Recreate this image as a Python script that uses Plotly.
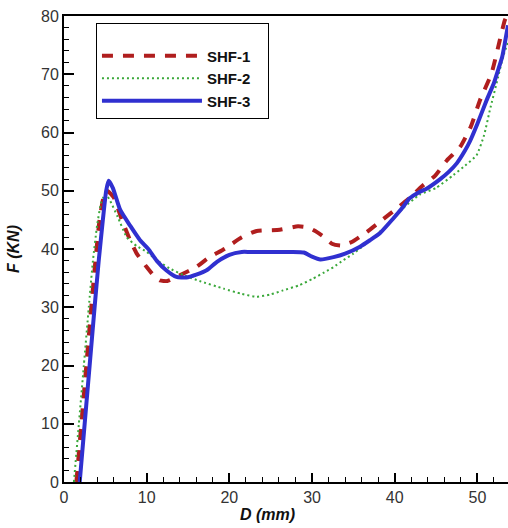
import plotly.graph_objects as go

# SHF-1 (red dashed)
shf1_x = [1.5, 2.1, 2.7, 3.3, 3.8, 4.3, 4.8, 5.2, 6.0, 7.0, 8.0, 8.8, 10.0, 11.0, 11.6, 12.5, 14, 16,
          17.4, 19.5, 21.5, 23.3, 26.1, 28.3, 29.5, 30.6, 31.5, 32.4, 33.5, 34.8, 36.6, 38.4, 40.2,
          41.8, 43.4, 44.9, 46.3, 47.9, 49.2, 50.3, 51.7, 52.7, 53.3, 53.7]
shf1_y = [0, 10, 20, 30, 38, 45, 49, 50, 48.9, 45, 41.5, 39.2, 36.9, 35.2, 34.6, 34.5, 35.5, 36.9,
          38.4, 40.1, 42, 43.1, 43.3, 43.9, 43.7, 42.9, 42, 40.9, 40.6, 41.2, 42.9, 44.9, 46.9,
          48.8, 50.9, 52.6, 55.2, 57.5, 61, 65.5, 70.1, 75.8, 79.2, 80.5]

# SHF-2 (green dotted)
shf2_x = [1.2, 1.8, 2.4, 3.0, 3.5, 4.0, 4.5, 5.0, 5.5, 6.5, 7.6, 8.8, 10, 11.5, 13, 14.5, 16.4,
          19.3, 21.5, 23.3, 25, 26.5, 28.5, 30.1, 31.5, 32.6, 33.8, 35, 37, 39, 41, 43, 45, 47.1,
          48.5, 49.9, 50.8, 51.5, 52.5, 53.1, 53.7]
shf2_y = [0, 10, 20, 30, 38, 44, 48, 49.5, 48.5, 45.5, 42, 40.5, 39.5, 37.8, 36.5, 35.5, 34.5,
          33.2, 32.3, 31.8, 32.2, 32.9, 33.8, 34.9, 36, 36.9, 38.1, 39.2, 41.5, 44, 47, 49.3, 50.5,
          52.7, 54.3, 56.1, 59.5, 63.8, 69.5, 73, 75.5]

# SHF-3 (blue solid)
shf3_x = [1.9, 2.5, 3.1, 3.7, 4.2, 4.7, 5.1, 5.4, 5.9, 6.8, 8.0, 9.2, 10.2, 11.2, 12.4, 13.6, 14.8,
          16.0, 17.3, 18.5, 20.0, 21.5, 22.5, 25, 27.5, 29, 30, 31, 32.6, 34, 35.8, 37, 38.2, 39.8,
          41, 41.8, 43, 43.9, 45.5, 46.5, 47.5, 48.5, 49.1, 50, 51.1, 52, 52.5, 53, 53.3, 53.7]
shf3_y = [0, 10, 20, 30, 38, 45, 50, 51.7, 50.5, 46.7, 44, 41.5, 40, 38, 36.3, 35.2, 35.1,
          35.6, 36.4, 37.8, 39, 39.5, 39.5, 39.5, 39.5, 39.4, 38.7, 38.2, 38.6, 39.2, 40.4, 41.5,
          42.7, 45.2, 47.2, 48.7, 49.8, 50.4, 52, 53.2, 54.7, 56.9, 58.5, 61.5, 65.5, 68.5, 70.7,
          73, 75.2, 78.4]

x_ticks = [0, 10, 20, 30, 40, 50]
y_ticks = [0, 10, 20, 30, 40, 50, 60, 70, 80]

fig = go.Figure()
fig.add_trace(go.Scatter(x=shf1_x, y=shf1_y, mode="lines", name="SHF-1",
                         line=dict(color="#b01e1e", width=4, dash="11px,10px",
                                   shape="spline", smoothing=0.5)))
fig.add_trace(go.Scatter(x=shf2_x, y=shf2_y, mode="lines", name="SHF-2",
                         line=dict(color="#3aa83a", width=2, dash="2px,3px",
                                   shape="spline", smoothing=0.5)))
fig.add_trace(go.Scatter(x=shf3_x, y=shf3_y, mode="lines", name="SHF-3",
                         line=dict(color="#3030d0", width=4, shape="spline", smoothing=0.5)))

font_family = "Liberation Sans, Arial, sans-serif"
axis_font = dict(family=font_family, size=16, color="#333333")
title_font = dict(family=font_family, size=16, color="#111111", weight="bold", style="italic")

fig.update_layout(
    width=508, height=528,
    margin=dict(l=64, r=0, t=16, b=46),
    paper_bgcolor="white", plot_bgcolor="white",
    showlegend=True,
    legend=dict(x=0.072, y=0.985, xanchor="left", yanchor="top",
                bordercolor="black", borderwidth=1, bgcolor="white",
                font=dict(family=font_family, size=15, color="#111111", weight="bold"),
                title=dict(text="\u00a0" * 50, font=dict(size=12)),
                tracegroupgap=0, itemwidth=100),
    xaxis=dict(range=[0, 53.7], tickvals=x_ticks, showgrid=False, zeroline=False,
               showline=True, linecolor="black", linewidth=2, mirror=True,
               ticks="inside", ticklen=9, tickwidth=2, tickcolor="black",
               tickfont=axis_font, automargin=False, ticklabeloverflow="allow",
               minor=dict(dtick=2, ticks="inside", ticklen=5, tickwidth=1, tickcolor="black")),
    yaxis=dict(range=[0, 80], tickvals=y_ticks, showgrid=False, zeroline=False,
               showline=True, linecolor="black", linewidth=2,
               ticks="inside", ticklen=10, tickwidth=2, tickcolor="black",
               tickfont=axis_font, automargin=False, ticklabeloverflow="allow",
               minor=dict(dtick=2, ticks="inside", ticklen=5, tickwidth=1, tickcolor="black"),
               title=dict(text="F (KN)", font=title_font, standoff=17)),
    annotations=[dict(text="D (mm)", xref="paper", yref="paper", x=0.459, y=-0.069,
                      xanchor="center", yanchor="middle", showarrow=False, font=title_font)],
)

# remove the default 8px page margin so the 508x528 figure fills the window exactly
fig.write_html("out.html",
               config={"displayModeBar": False},
               post_script="document.body.style.margin='0';document.body.style.overflow='hidden';")
